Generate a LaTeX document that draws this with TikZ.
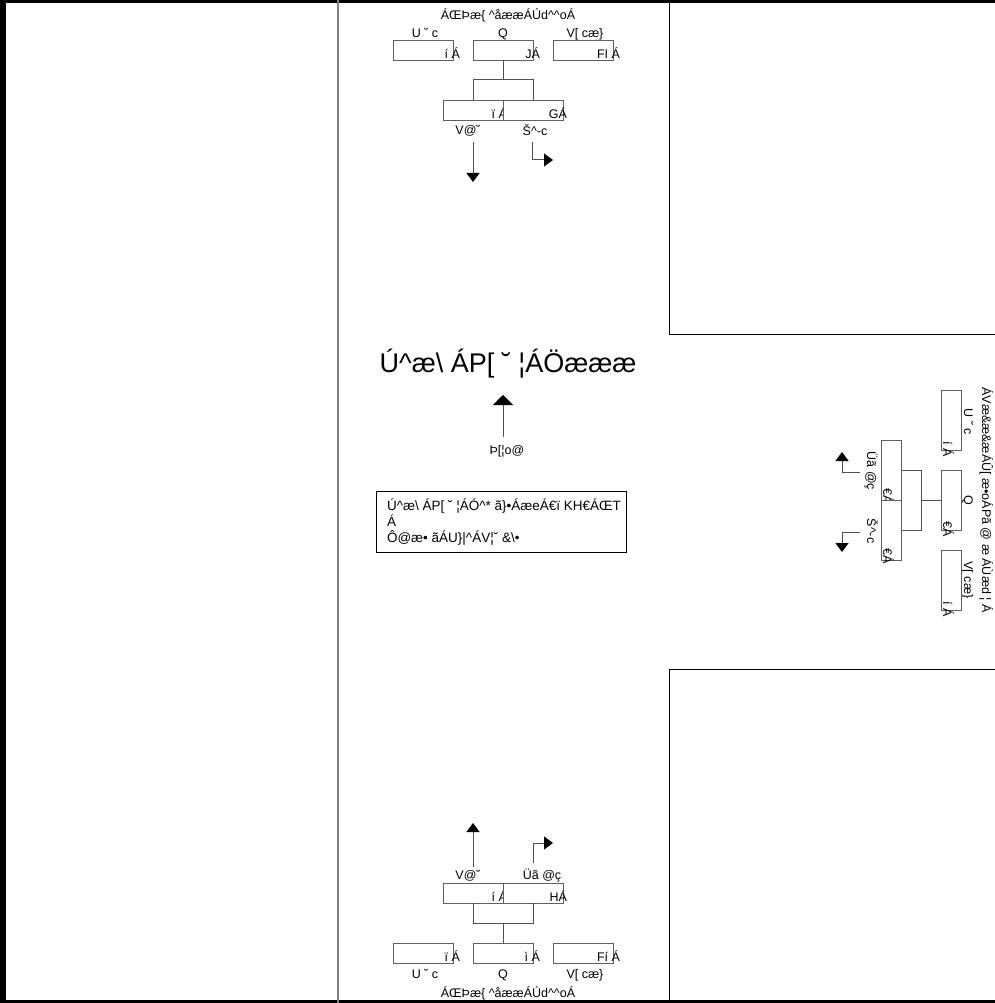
\documentclass[tikz,border=0pt]{standalone}
\usepackage{fontspec}
\setmainfont{Liberation Sans}
\usetikzlibrary{arrows.meta}
\newcommand\crt{\textasciicircum}
\definecolor{boxgray}{RGB}{95,95,95}
\definecolor{linegray}{RGB}{80,80,80}
\definecolor{divgray}{RGB}{128,128,128}
\tikzset{
  lbl/.style={font=\fontsize{12.5}{15}\selectfont, inner sep=0pt, outer sep=0pt},
  tbt/.style={font=\fontsize{13.5}{16}\selectfont, inner sep=0pt, outer sep=0pt},
  bigt/.style={font=\fontsize{27}{32}\selectfont, inner sep=0pt},
  boxst/.style={draw=boxgray, fill=white, line width=1pt, minimum width=60pt, minimum height=20pt, inner sep=0pt, outer sep=0pt},
  rboxst/.style={draw=boxgray, fill=white, line width=1pt, minimum width=20pt, minimum height=60pt, inner sep=0pt, outer sep=0pt},
  conn/.style={draw=linegray, line width=1pt},
  arr/.style={draw=linegray, line width=1pt, -{Triangle[width=13pt,length=9pt,color=black]}},
  bigarr/.style={draw=linegray, line width=1pt, -{Triangle[width=20pt,length=10pt,color=black]}},
  rot/.style={rotate=-90}
}
\begin{document}
\begin{tikzpicture}[x=1pt,y=-1pt]
\useasboundingbox (0,0) rectangle (994,1003);
\fill[white] (0,0) rectangle (994,1003);
% frame and panels
\draw[line width=6pt] (3,0) rectangle (1100,1003);
\draw[divgray, line width=1.8pt] (338,0) -- (338,1003);
\draw[line width=1pt] (669,-5) rectangle (1100,334);
\draw[line width=1pt] (669,669) rectangle (1100,1010);

% ---------------- top diagram ----------------
\node[lbl, anchor=base] (ttitle) at (508,20) {ÁŒÞæ\{ {\crt}åææÁÚd{\crt}{\crt}oÁ};
\node[lbl, anchor=base] (tla) at (425,38) {U ˘ c};
\node[lbl, anchor=base] (tlb) at (503,38) {Q};
\node[lbl, anchor=base] (tlc) at (585,38) {V[ cæ\}};
\node[boxst] (tb1) at (423,51) {};
\node[lbl, anchor=base east] (tb1t) at (460,59) {í Á};
\node[boxst] (tb2) at (503,51) {};
\node[lbl, anchor=base east] (tb2t) at (540,59) {JÁ};
\node[boxst] (tb3) at (583,51) {};
\node[lbl, anchor=base east] (tb3t) at (620,59) {FI Á};
\draw[conn] (tb2.south) -- ++(0,19) -| (473,101);
\draw[conn] (tb2.south) -- ++(0,19) -| (533,101);
\node[boxst] (tl1) at (473,111) {};
\node[lbl, anchor=base east] (tl1t) at (507,119) {ï Á};
\node[boxst] (tl2) at (533,111) {};
\node[lbl, anchor=base east] (tl2t) at (567,119) {GÁ};
\node[lbl, anchor=base] (tld) at (468,135) {V@˘};
\node[lbl, anchor=base] (tle) at (535,136) {Š{\crt}-c};
\coordinate (ta1s) at (473,142);
\coordinate (ta1e) at (473,182);
\draw[arr] (ta1s) -- (ta1e);
\coordinate (ta2s) at (532,142);
\coordinate (ta2e) at (553,160);
\draw[arr] (ta2s) |- (ta2e);

% ---------------- middle ----------------
\node[bigt, anchor=base] (mtitle) at (508,372) {Ú{\crt}æ{\textbackslash} ÁP[ ˘ ¦ÁÖæææ};
\coordinate (mas) at (503,437);
\coordinate (mae) at (503,395);
\draw[bigarr] (mas) -- (mae);
\node[lbl, anchor=base] (mlab) at (507,454) {Þ[¦o@};
\node[draw, line width=1pt, minimum width=250pt, minimum height=61pt, inner sep=0pt, anchor=north west] (tbox) at (376,491) {};
\node[tbt, anchor=base west] (tbl1) at (387,510) {Ú{\crt}æ{\textbackslash} ÁP[ ˘ ¦ÁÓ{\crt}* ã\}•ÁæeÁ€ï KH€ÁŒT};
\node[tbt, anchor=base west] (tbl2) at (387,526) {Á};
\node[tbt, anchor=base west] (tbl3) at (387,542) {Ô@æ• ãÁU\}|{\crt}ÁV¦˘ \&{\textbackslash}•};

% ---------------- rotated right diagram ----------------
\node[lbl, rot, anchor=base] (rtitle) at (982,500) {ÁVæ\&æ\&æÁÛ[ æ•oÁPã @ æ ÁÙæd ¦ Á};
\node[lbl, rot, anchor=base] (rla) at (964,422) {U ˘ c};
\node[lbl, rot, anchor=base] (rlb) at (964,500) {Q};
\node[lbl, rot, anchor=base] (rlc) at (964,580) {V[ cæ\}};
\node[rboxst] (rb1) at (951,420) {};
\node[lbl, rot, anchor=base east] (rb1t) at (943,457) {í Á};
\node[rboxst] (rb2) at (951,500) {};
\node[lbl, rot, anchor=base east] (rb2t) at (943,537) {€Á};
\node[rboxst] (rb3) at (951,580) {};
\node[lbl, rot, anchor=base east] (rb3t) at (943,617) {í Á};
\draw[conn] (rb2.west) -- ++(-20,0) |- (901,470);
\draw[conn] (rb2.west) -- ++(-20,0) |- (901,530);
\node[rboxst] (rl1) at (891,470) {};
\node[lbl, rot, anchor=base east] (rl1t) at (883,504) {€Á};
\node[rboxst] (rl2) at (891,530) {};
\node[lbl, rot, anchor=base east] (rl2t) at (883,564) {€Á};
\node[lbl, rot, anchor=base] (rld) at (867,471) {Üã @ç};
\node[lbl, rot, anchor=base] (rle) at (867,531) {Š{\crt}-c};
\coordinate (ra1s) at (860,472);
\coordinate (ra1e) at (842,452);
\draw[arr] (ra1s) -| (ra1e);
\coordinate (ra2s) at (860,532);
\coordinate (ra2e) at (842,552);
\draw[arr] (ra2s) -| (ra2e);

% ---------------- bottom diagram ----------------
\coordinate (ba1s) at (473,867);
\coordinate (ba1e) at (473,823);
\draw[arr] (ba1s) -- (ba1e);
\coordinate (ba2s) at (533,863);
\coordinate (ba2e) at (553,843);
\draw[arr] (ba2s) |- (ba2e);
\node[lbl, anchor=base] (bld) at (468,879) {V@˘};
\node[lbl, anchor=base] (ble) at (542,879) {Üã @ç};
\node[boxst] (bu1) at (473,893) {};
\node[lbl, anchor=base east] (bu1t) at (507,901) {í Á};
\node[boxst] (bu2) at (533,893) {};
\node[lbl, anchor=base east] (bu2t) at (567,901) {HÁ};
\node[boxst] (bb1) at (423,953) {};
\node[lbl, anchor=base east] (bb1t) at (460,961) {ï Á};
\node[boxst] (bb2) at (503,953) {};
\node[lbl, anchor=base east] (bb2t) at (540,961) {ì Á};
\node[boxst] (bb3) at (583,953) {};
\node[lbl, anchor=base east] (bb3t) at (620,961) {Fí Á};
\draw[conn] (bb2.north) -- ++(0,-20) -| (bu1.south);
\draw[conn] (bb2.north) -- ++(0,-20) -| (bu2.south);
\node[lbl, anchor=base] (bla) at (425,978) {U ˘ c};
\node[lbl, anchor=base] (blb) at (503,978) {Q};
\node[lbl, anchor=base] (blc) at (585,978) {V[ cæ\}};
\node[lbl, anchor=base] (btitle) at (508,997) {ÁŒÞæ\{ {\crt}åææÁÚd{\crt}{\crt}oÁ};
\end{tikzpicture}
\end{document}
